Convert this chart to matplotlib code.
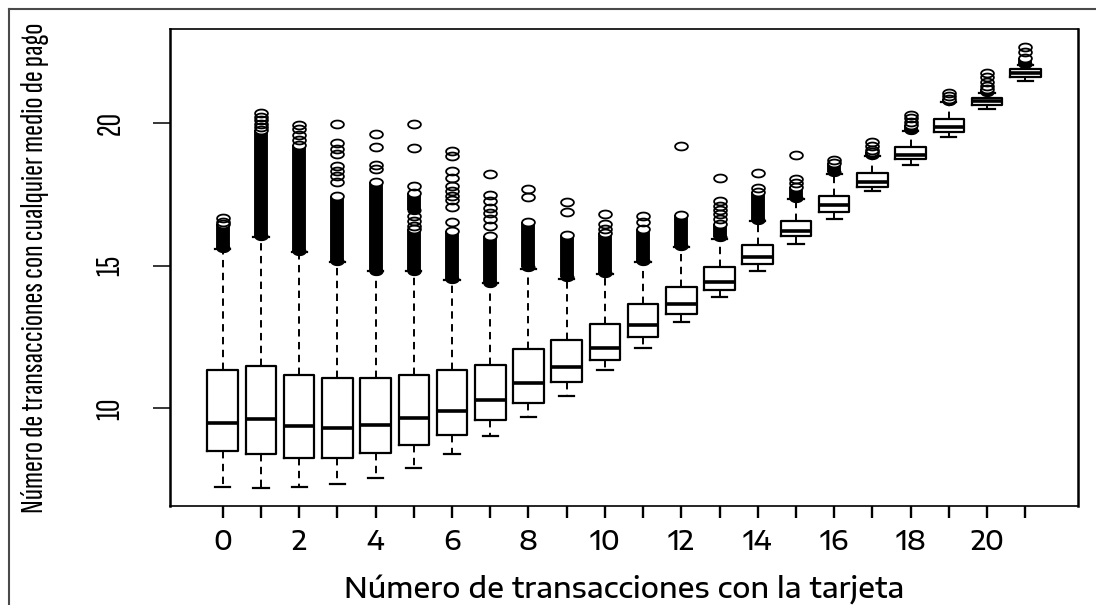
import numpy as np
import matplotlib
matplotlib.use("Agg")
import matplotlib.pyplot as plt
from matplotlib.path import Path
from matplotlib.lines import Line2D

# ---- data: one box per number of card transactions ----
positions = list(range(22))
tick_labels = [str(p) if p % 2 == 0 else "" for p in positions]

q1 = [8.50, 8.41, 8.28, 8.28, 8.45, 8.72, 9.07, 9.59, 10.20, 10.93, 11.69,
      12.51, 13.32, 14.16, 15.07, 16.04, 16.87, 17.77, 18.74, 19.70, 20.63, 21.62]
medians = [9.50, 9.62, 9.38, 9.33, 9.42, 9.65, 9.91, 10.31, 10.90, 11.46, 12.12,
           12.92, 13.67, 14.43, 15.30, 16.23, 17.13, 17.95, 18.88, 19.87, 20.78, 21.77]
q3 = [11.36, 11.50, 11.18, 11.05, 11.05, 11.18, 11.33, 11.53, 12.10, 12.41, 12.97,
      13.66, 14.27, 14.95, 15.73, 16.57, 17.46, 18.24, 19.17, 20.14, 20.89, 21.91]
whisker_low = [7.26, 7.20, 7.26, 7.36, 7.56, 7.93, 8.41, 9.03, 9.70, 10.43, 11.34,
               12.12, 13.02, 13.90, 14.80, 15.76, 16.64, 17.62, 18.55, 19.52, 20.49, 21.47]
whisker_high = [15.60, 16.00, 15.48, 15.13, 14.80, 14.80, 14.50, 14.38, 14.90, 14.55, 14.70,
                15.15, 15.65, 15.95, 16.58, 17.33, 18.22, 18.85, 19.72, 20.75, 21.07, 22.05]

# runs of outliers so dense that their circles merge into a solid column
band_box = [0, 1, 2, 3, 4, 5, 5, 6, 7, 8, 9, 10, 11, 12, 13, 14, 15, 16, 17, 18, 19, 20, 21]
band_low = [15.64, 16.05, 15.52, 15.17, 14.82, 14.82, 16.95, 14.53, 14.41, 14.95, 14.59,
            14.74, 15.17, 15.68, 16.00, 16.61, 17.37, 18.27, 18.88, 19.75, 20.78, 21.10, 22.08]
band_high = [16.45, 19.75, 19.25, 17.45, 17.95, 16.28, 17.55, 16.22, 16.05, 16.55, 16.07,
             16.15, 16.30, 16.78, 16.45, 17.60, 17.75, 18.60, 19.00, 19.95, 20.85, 21.20, 22.30]

# separate outlying observations
outliers = [
    [16.55, 16.69],
    [19.85, 19.98, 20.10, 20.22, 20.35],
    [19.42, 19.60, 19.78, 19.95],
    [17.94, 18.13, 18.33, 18.48, 18.91, 19.11, 19.32, 19.96],
    [18.39, 18.53, 19.18, 19.61],
    [16.40, 16.57, 16.75, 17.80, 19.12, 19.96],
    [16.54, 17.06, 17.30, 17.45, 17.62, 17.80, 18.06, 18.33, 18.85, 19.03],
    [16.40, 16.64, 16.85, 17.03, 17.27, 17.47, 18.20],
    [17.42, 17.68],
    [16.87, 17.24],
    [16.30, 16.45, 16.82],
    [16.53, 16.74],
    [19.20],
    [16.63, 16.81, 16.97, 17.10, 17.27, 18.07],
    [17.72, 18.24],
    [17.90, 18.03, 18.88],
    [18.72],
    [19.06, 19.20, 19.35],
    [20.05, 20.18, 20.30],
    [20.95, 21.07],
    [21.30, 21.45, 21.60, 21.75],
    [22.50, 22.68],
]

x_title = "Número de transacciones con la tarjeta"
y_title = "Número de transacciones con cualquier medio de pago"
y_ticks = [10, 15, 20]

# wide face for horizontal text, condensed face for text running up the y axis
wide_family = ["Encode Sans Expanded", "DejaVu Sans"]
narrow_family = ["Sofia Sans Extra Condensed", "Roboto Condensed", "Liberation Sans"]

W, H, DPI = 1096, 605, 100
fig = plt.figure(figsize=(W / DPI, H / DPI), dpi=DPI)
fig.patch.set_facecolor("white")

left_px, right_px, top_px, bottom_px = 170, 1078, 29, 506
ax = fig.add_axes([left_px / W, (H - bottom_px) / H,
                   (right_px - left_px) / W, (bottom_px - top_px) / H])

stats = []
for i in positions:
    stats.append(dict(med=medians[i], q1=q1[i], q3=q3[i],
                      whislo=whisker_low[i], whishi=whisker_high[i], fliers=[]))

line_w = 1.6
ax.bxp(stats, positions=positions, widths=0.8, showfliers=False,
       boxprops=dict(color="black", linewidth=line_w),
       medianprops=dict(color="black", linewidth=2.6, solid_capstyle="butt"),
       whiskerprops=dict(color="black", linewidth=1.4, linestyle=(0, (3.8, 2.8))),
       capprops=dict(color="black", linewidth=line_w))

# horizontally elongated open-circle marker
t = np.linspace(0, 2 * np.pi, 72)
ellipse = Path(np.column_stack([1.62 * np.cos(t), np.sin(t)]), closed=True)
mk_size = 9.2

bx = np.array(band_box, dtype=float)
ax.vlines(bx, band_low, band_high, colors="black", linewidth=mk_size + 0.8, zorder=3)
ax.plot(bx, band_low, linestyle="none", marker=ellipse, markersize=mk_size,
        markerfacecolor="black", markeredgecolor="black", markeredgewidth=1.0, zorder=4)
ax.plot(bx, band_high, linestyle="none", marker=ellipse, markersize=mk_size,
        markerfacecolor="white", markeredgecolor="black", markeredgewidth=1.3, zorder=4)

for i, vals in enumerate(outliers):
    ax.plot([i] * len(vals), vals, linestyle="none", marker=ellipse, markersize=mk_size,
            markerfacecolor="none", markeredgecolor="black", markeredgewidth=1.3, zorder=4)

# R-style axis ranges: 4% padding around the data
all_low = min(whisker_low)
all_high = max(max(v) for v in outliers)
span = all_high - all_low
ax.set_ylim(all_low - 0.04 * span, all_high + 0.04 * span)
xs = (positions[-1] + 0.5) - (positions[0] - 0.5)
ax.set_xlim(positions[0] - 0.5 - 0.04 * xs, positions[-1] + 0.5 + 0.04 * xs)

ax.set_xticks(positions)
ax.set_xticklabels(tick_labels, family=wide_family, fontsize=14, fontweight="medium")
ax.set_yticks(y_ticks)
ax.set_yticklabels([str(v) for v in y_ticks], rotation=90, va="center",
                   family=narrow_family, fontsize=16)

ax.tick_params(axis="x", direction="out", length=8.6, width=1.7, pad=8, colors="black")
ax.tick_params(axis="y", direction="out", length=12.2, width=1.1, pad=20, colors="black")

for side in ("left", "right"):
    ax.spines[side].set_linewidth(1.8)
for side in ("top", "bottom"):
    ax.spines[side].set_linewidth(1.2)
for s in ax.spines.values():
    s.set_color("black")

xl = ax.set_xlabel(x_title, family=wide_family, fontsize=16, fontweight="medium", va="center")
ax.xaxis.set_label_coords(0.5, -(590 - bottom_px) / (bottom_px - top_px))
yl = ax.set_ylabel(y_title, family=narrow_family, fontsize=16, va="center")
ax.yaxis.set_label_coords(-(left_px - 35) / (right_px - left_px), 0.5)

# window frame around the chart
fig.add_artist(Line2D([9 / W, 9 / W], [0, 1 - 9 / H], transform=fig.transFigure,
                      color="#4a4a4a", linewidth=1.5))
fig.add_artist(Line2D([9 / W, 1], [1 - 9 / H, 1 - 9 / H], transform=fig.transFigure,
                      color="#4a4a4a", linewidth=1.5))

# size the titles to their target extents
fig.canvas.draw()
renderer = fig.canvas.get_renderer()
bb = yl.get_window_extent(renderer)
yl.set_fontsize(yl.get_fontsize() * 490.0 / bb.height)
bb = xl.get_window_extent(renderer)
xl.set_fontsize(xl.get_fontsize() * 560.0 / bb.width)
ylabs = ax.get_yticklabels()
bb = ylabs[-1].get_window_extent(renderer)
scale = 24.0 / bb.height
for lab in ylabs:
    lab.set_fontsize(lab.get_fontsize() * scale)
xlabs = [lab for lab in ax.get_xticklabels() if lab.get_text() == "20"]
if xlabs:
    bb = xlabs[0].get_window_extent(renderer)
    xscale = 34.0 / bb.width
    for lab in ax.get_xticklabels():
        lab.set_fontsize(lab.get_fontsize() * xscale)

fig.savefig("out.png", dpi=DPI, facecolor="white")
